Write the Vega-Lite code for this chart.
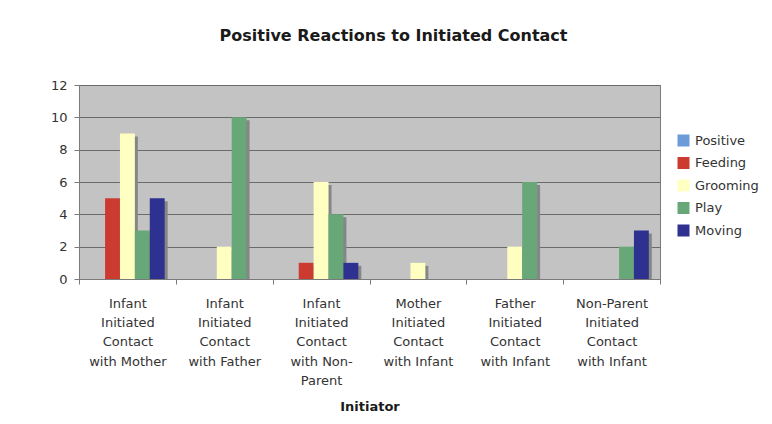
{
  "$schema": "https://vega.github.io/schema/vega-lite/v6.json",
  "autosize": {"type": "none"},
  "padding": {"left": 79, "top": 85, "right": 112, "bottom": 145},
  "width": 581,
  "height": 194,
  "background": "#ffffff",
  "title": {
    "text": "Positive Reactions to Initiated Contact",
    "anchor": "middle",
    "frame": "group",
    "dx": 24,
    "offset": 35,
    "font": "DejaVu Sans",
    "fontSize": 16,
    "fontWeight": "bold",
    "color": "#1a1a1a"
  },
  "data": {
    "values": [
      {"initiator": "Infant Initiated Contact with Mother", "reaction": "Feeding", "count": 5},
      {"initiator": "Infant Initiated Contact with Mother", "reaction": "Grooming", "count": 9},
      {"initiator": "Infant Initiated Contact with Mother", "reaction": "Play", "count": 3},
      {"initiator": "Infant Initiated Contact with Mother", "reaction": "Moving", "count": 5},
      {"initiator": "Infant Initiated Contact with Father", "reaction": "Grooming", "count": 2},
      {"initiator": "Infant Initiated Contact with Father", "reaction": "Play", "count": 10},
      {"initiator": "Infant Initiated Contact with Non-Parent", "reaction": "Feeding", "count": 1},
      {"initiator": "Infant Initiated Contact with Non-Parent", "reaction": "Grooming", "count": 6},
      {"initiator": "Infant Initiated Contact with Non-Parent", "reaction": "Play", "count": 4},
      {"initiator": "Infant Initiated Contact with Non-Parent", "reaction": "Moving", "count": 1},
      {"initiator": "Mother Initiated Contact with Infant", "reaction": "Grooming", "count": 1},
      {"initiator": "Father Initiated Contact with Infant", "reaction": "Grooming", "count": 2},
      {"initiator": "Father Initiated Contact with Infant", "reaction": "Play", "count": 6},
      {"initiator": "Non-Parent Initiated Contact with Infant", "reaction": "Play", "count": 2},
      {"initiator": "Non-Parent Initiated Contact with Infant", "reaction": "Moving", "count": 3}
    ]
  },
  "encoding": {
    "x": {
      "field": "initiator",
      "type": "nominal",
      "sort": null,
      "scale": {"paddingInner": 0, "paddingOuter": 0},
      "axis": {
        "title": "Initiator",
        "labelAngle": 0,
        "labelExpr": "isString(datum.value) ? split(replace(replace(replace(datum.value, ' Initiated ', '|Initiated|'), 'Contact ', 'Contact|'), 'with Non-Parent', 'with Non-|Parent'), '|') : ''",
        "labelLineHeight": 19.4,
        "labelBaseline": "top",
        "labelPadding": 13,
        "tickBand": "extent",
        "tickSize": 5,
        "tickColor": "#7a7a7a",
        "domainColor": "#7a7a7a",
        "labelFont": "DejaVu Sans",
        "labelFontSize": 13,
        "labelColor": "#333333",
        "titleFont": "DejaVu Sans",
        "titleFontSize": 13,
        "titleFontWeight": "bold",
        "titleColor": "#1a1a1a",
        "titlePadding": 13,
        "grid": false
      }
    },
    "y": {
      "field": "count",
      "type": "quantitative",
      "scale": {"domain": [0, 12], "nice": false},
      "axis": {
        "title": null,
        "values": [0, 2, 4, 6, 8, 10, 12],
        "tickSize": 5,
        "tickColor": "#7a7a7a",
        "domainColor": "#7a7a7a",
        "gridColor": "#6a6a6a",
        "gridWidth": 1,
        "labelFont": "DejaVu Sans",
        "labelFontSize": 13,
        "labelColor": "#333333",
        "labelPadding": 7
      }
    }
  },
  "layer": [
    {
      "mark": {"type": "bar", "color": "#868686", "yOffset": 3, "clip": true},
      "encoding": {
        "xOffset": {
          "field": "reaction",
          "type": "nominal",
          "scale": {"domain": ["Positive", "Feeding", "Grooming", "Play", "Moving"], "range": [3, 99.83], "paddingInner": 0, "paddingOuter": 0.75}
        }
      }
    },
    {
      "mark": {"type": "bar"},
      "encoding": {
        "xOffset": {
          "field": "reaction",
          "type": "nominal",
          "scale": {"domain": ["Positive", "Feeding", "Grooming", "Play", "Moving"], "paddingInner": 0, "paddingOuter": 0.75}
        },
        "color": {
          "field": "reaction",
          "type": "nominal",
          "scale": {
            "domain": ["Positive", "Feeding", "Grooming", "Play", "Moving"],
            "range": ["#6b9bd8", "#cc3b2f", "#ffffc2", "#68a878", "#2f3190"]
          },
          "legend": {
            "title": null,
            "orient": "none",
            "legendX": 598,
            "legendY": 49,
            "symbolType": "square",
            "symbolSize": 144,
            "symbolStrokeWidth": 0,
            "symbolOpacity": 1,
            "labelFont": "DejaVu Sans",
            "labelFontSize": 13,
            "labelColor": "#333333",
            "labelOffset": 5,
            "rowPadding": 8.5
          }
        }
      }
    }
  ],
  "resolve": {"scale": {"xOffset": "independent"}},
  "config": {
    "view": {"fill": "#c3c3c3", "stroke": "#7a7a7a"}
  }
}
